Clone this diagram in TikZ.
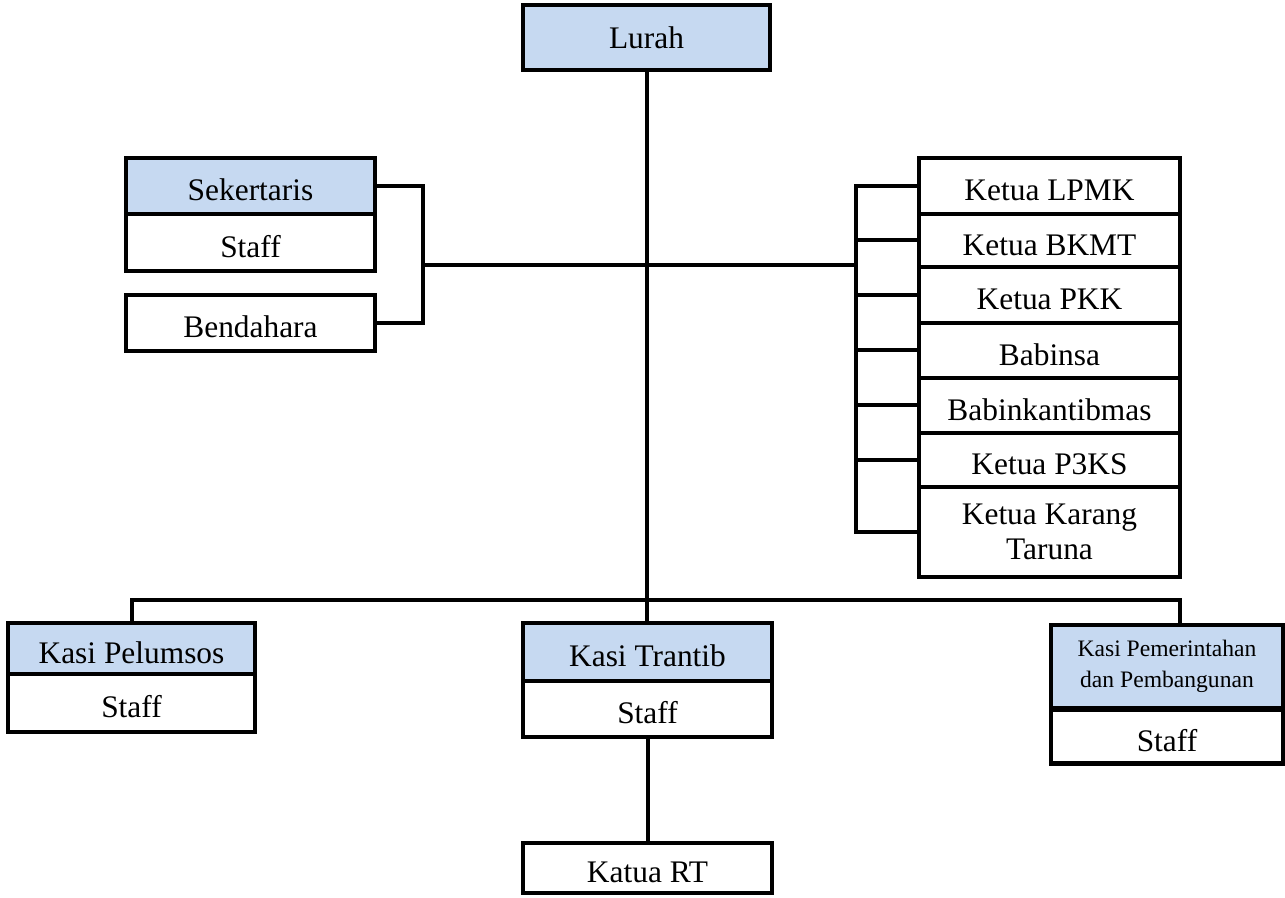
\documentclass[tikz,border=0pt]{standalone}
\usepackage{fontspec}
\setmainfont{Liberation Serif}
\definecolor{headblue}{RGB}{198,217,241}
\tikzset{
  plainbox/.style={draw,line width=2.2pt,fill=white,inner sep=0pt,align=center,
    font=\fontsize{15.7}{17.5}\selectfont},
  headbox/.style={plainbox,fill=headblue},
  lowtext/.style={text height=14.7pt,text depth=0pt},
  link/.style={line width=2pt}
}
\begin{document}
\begin{tikzpicture}[x=0.5pt,y=-0.5pt]
      \useasboundingbox (0,0) rectangle (1285,898);
      % junction points of the connectors
      \coordinate (jsek) at (423,265);
      \coordinate (jket) at (856,265);
      \coordinate (pemdrop) at (1180,600);
      \node[headbox,minimum width=123.5pt,minimum height=32.5pt] (lurah) at (646.5,37.5) {Lurah};
      \node[headbox,lowtext,minimum width=124.5pt,minimum height=28pt] (sek) at (250.5,186) {Sekertaris};
      \node[plainbox,lowtext,minimum width=124.5pt,minimum height=28.5pt] (sekstaff) at (250.5,242.5) {Staff};
      \node[plainbox,lowtext,minimum width=124.5pt,minimum height=28pt] (bend) at (250.5,323) {Bendahara};
      \node[plainbox,lowtext,minimum width=130.5pt,minimum height=28pt] (lpmk) at (1049.5,186) {Ketua LPMK};
      \node[plainbox,lowtext,minimum width=130.5pt,minimum height=26.5pt] (bkmt) at (1049.5,240.5) {Ketua BKMT};
      \node[plainbox,lowtext,minimum width=130.5pt,minimum height=28pt] (pkk) at (1049.5,295) {Ketua PKK};
      \node[plainbox,lowtext,minimum width=130.5pt,minimum height=27.5pt] (babinsa) at (1049.5,350.5) {Babinsa};
      \node[plainbox,lowtext,minimum width=130.5pt,minimum height=27.5pt] (babink) at (1049.5,405.5) {Babinkantibmas};
      \node[plainbox,lowtext,minimum width=130.5pt,minimum height=27pt] (ptiga) at (1049.5,460) {Ketua P3KS};
      \node[plainbox,minimum width=130.5pt,minimum height=45pt] (karang) at (1049.5,532) {Ketua Karang\\Taruna};
      \node[headbox,lowtext,minimum width=123.5pt,minimum height=25.5pt] (pelumsos) at (131.5,648.5) {Kasi Pelumsos};
      \node[plainbox,lowtext,minimum width=123.5pt,minimum height=29pt] (pelstaff) at (131.5,703) {Staff};
      \node[headbox,lowtext,minimum width=124.5pt,minimum height=29pt] (trantib) at (647.5,652) {Kasi Trantib};
      \node[plainbox,lowtext,minimum width=124.5pt,minimum height=28pt] (transtaff) at (647.5,709) {Staff};
      \node[plainbox,lowtext,minimum width=124.5pt,minimum height=25pt] (katua) at (647.5,868) {Katua RT};
      \node[headbox,minimum width=116pt,minimum height=41.5pt,
        font=\fontsize{11.8}{15.5}\selectfont] (pem) at (1167,666.5) {Kasi Pemerintahan\\dan Pembangunan};
      \node[plainbox,lowtext,minimum width=116pt,minimum height=27pt] (pemstaff) at (1167,736.5) {Staff};
      \draw[link] (lurah.south) -- (lurah.south |- trantib.north);
      \draw[link] (sek.east) -| (jsek) |- (bend.east);
      \draw[link] (jsek) -- (jket);
      \draw[link] (lpmk.west) -- (lpmk.west -| jket) -- (karang.west -| jket) -- (karang.west);
      \foreach \n in {bkmt,pkk,babinsa,babink,ptiga}
        \draw[link] (\n.west -| jket) -- (\n.west);
      \draw[link] (pelumsos.north) |- (pemdrop) -- (pemdrop |- pem.north);
      \draw[link] (transtaff.south) -- (katua.north);
    \end{tikzpicture}
\end{document}
